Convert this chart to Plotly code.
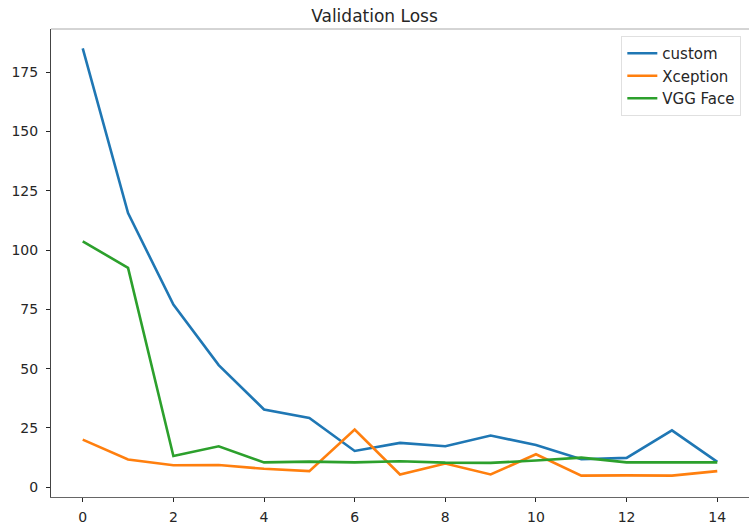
import plotly.graph_objects as go

epochs = list(range(15))
custom = [185.0, 115.6, 77.0, 51.5, 32.8, 29.2, 15.3, 18.7, 17.3, 21.8, 17.8, 11.8, 12.4, 24.0, 10.7]
xception = [20.1, 11.7, 9.3, 9.4, 7.8, 6.8, 24.3, 5.4, 10.0, 5.4, 13.9, 4.9, 5.0, 4.9, 6.8]
vgg_face = [103.7, 92.5, 13.2, 17.3, 10.5, 10.8, 10.5, 11.0, 10.4, 10.3, 11.3, 12.5, 10.5, 10.5, 10.5]

series = [("custom", custom, "#1f77b4"), ("Xception", xception, "#ff7f0e"), ("VGG Face", vgg_face, "#2ca02c")]

fig = go.Figure()
for name, vals, color in series:
    fig.add_trace(go.Scatter(x=epochs, y=vals, mode="lines", name=name,
                             line=dict(color=color, width=2.6)))

font_family = "DejaVu Sans"
fig.update_layout(
    width=749, height=526,
    margin=dict(l=51, r=0, t=29, b=29),
    paper_bgcolor="white", plot_bgcolor="white",
    title=dict(text="Validation Loss", x=0.5, xanchor="center", y=0.97, yanchor="middle",
               font=dict(family=font_family, size=17, color="#262626")),
    font=dict(family=font_family, size=14, color="#262626"),
    showlegend=True,
    legend=dict(x=0.989, y=0.985, xanchor="right", yanchor="top",
                bgcolor="rgba(255,255,255,0.9)", bordercolor="#e0e0e0", borderwidth=1,
                font=dict(family=font_family, size=15, color="#262626"),
                tracegroupgap=0, itemwidth=30),
    xaxis=dict(range=[-0.7, 14.7], tickvals=[0, 2, 4, 6, 8, 10, 12, 14],
               showgrid=False, zeroline=False, showline=True, linecolor="#666666", linewidth=1,
               ticks="outside", ticklen=4, tickcolor="#262626", tickwidth=1.2,
               ticklabelstandoff=3,
               tickfont=dict(family=font_family, size=14, color="#262626")),
    yaxis=dict(range=[-4.1, 193.2], tickvals=[0, 25, 50, 75, 100, 125, 150, 175],
               showgrid=False, zeroline=False, showline=True, linecolor="#444444", linewidth=1,
               ticks="outside", ticklen=4, tickcolor="#262626", tickwidth=1.2,
               ticklabelstandoff=5,
               tickfont=dict(family=font_family, size=14, color="#262626")),
)
fig.add_shape(type="line", xref="paper", yref="paper", x0=0, x1=1, y0=1, y1=1,
              line=dict(color="#aaaaaa", width=1))
fig.write_html("out.html", config={"displayModeBar": False},
               post_script="document.body.style.margin='0';document.body.style.overflow='hidden';")
